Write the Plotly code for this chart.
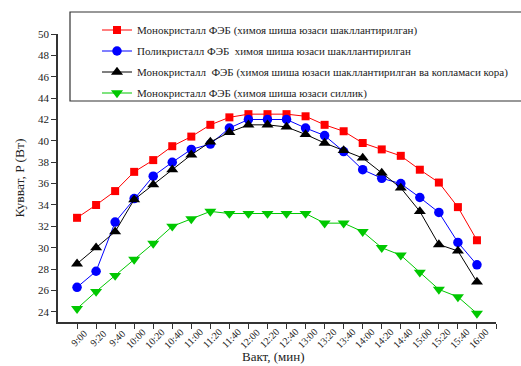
import plotly.graph_objects as go

# Time of day (20-minute steps)
times = ["9:00", "9:20", "9:40", "10:00", "10:20", "10:40", "11:00", "11:20",
         "11:40", "12:00", "12:20", "12:40", "13:00", "13:20", "13:40", "14:00",
         "14:20", "14:40", "15:00", "15:20", "15:40", "16:00"]

# Power, W
mono_shaped = [32.8, 34.0, 35.3, 37.1, 38.2, 39.5, 40.4, 41.5, 42.2, 42.5, 42.5,
               42.5, 42.3, 41.5, 40.9, 39.8, 39.2, 38.6, 37.3, 36.1, 33.8, 30.7]
poly_shaped = [26.3, 27.8, 32.4, 34.6, 36.7, 38.0, 39.2, 39.7, 41.2, 42.0, 42.0,
               42.0, 41.2, 40.5, 39.0, 37.3, 36.5, 36.0, 34.7, 33.3, 30.5, 28.4]
mono_shaped_dark = [28.5, 30.0, 31.5, 34.5, 35.9, 37.3, 38.7, 39.9, 40.8, 41.5, 41.5,
                    41.3, 40.6, 39.8, 39.1, 38.4, 37.0, 35.6, 33.4, 30.3, 29.7, 26.8]
mono_smooth = [24.3, 25.9, 27.4, 28.9, 30.4, 32.0, 32.7, 33.4, 33.2, 33.2, 33.2,
               33.2, 33.2, 32.3, 32.3, 31.5, 30.0, 29.3, 27.7, 26.1, 25.4, 23.85]

names = [
    "Монокристалл ФЭБ (химоя шиша юзаси шакллантирилган)",
    "Поликристалл ФЭБ  химоя шиша юзаси шакллантирилган",
    "Монокристалл  ФЭБ (химоя шиша юзаси шакллантирилган ва копламаси кора)",
    "Монокристалл ФЭБ (химоя шиша юзаси силлик)",
]
series = [mono_shaped, poly_shaped, mono_shaped_dark, mono_smooth]
colors = ["#ff0000", "#0000ff", "#000000", "#00c800"]
symbols = ["square", "circle", "triangle-up", "triangle-down"]
sizes = [8, 9.5, 10.5, 10.5]

xidx = list(range(len(times)))
FONT = "Liberation Serif"
TXT = "#222222"

fig = go.Figure()
for i, (name, ys) in enumerate(zip(names, series)):
    fig.add_trace(go.Scatter(
        x=xidx, y=ys, name=name, mode="lines+markers",
        legendgroup=f"g{i}",
        line=dict(color=colors[i], width=1),
        marker=dict(symbol=symbols[i], size=sizes[i], color=colors[i],
                    line=dict(width=0)),
    ))

W, H = 521, 366
ml, mr, mt, mb = 58, 25, 34, 44
pw, ph = W - ml - mr, H - mt - mb


def px_x(p):
    return (p - ml) / pw


def px_y(p):
    return (H - mb - p) / ph


# Legend frame
fig.add_shape(type="rect", xref="paper", yref="paper",
              x0=px_x(70), x1=px_x(530), y0=px_y(101), y1=px_y(12),
              line=dict(color="#333333", width=1.2), fillcolor="white",
              layer="above")

# Slanted time labels, centred under each tick
for i, t in enumerate(times):
    fig.add_annotation(text=t, xref="x", yref="paper", x=i + 0.08, y=px_y(338),
                       xanchor="center", yanchor="middle", textangle=-45,
                       showarrow=False, font=dict(family=FONT, size=10, color=TXT))

# X-axis title
fig.add_annotation(text="Вакт, (мин)", xref="paper", yref="paper",
                   x=px_x(273), y=px_y(366), xanchor="center", yanchor="bottom",
                   showarrow=False, font=dict(family=FONT, size=13, color=TXT))

fig.update_layout(
    width=W, height=H,
    margin=dict(l=ml, r=mr, t=mt, b=mb, pad=0, autoexpand=False),
    paper_bgcolor="white", plot_bgcolor="white",
    font=dict(family=FONT, color=TXT),
    showlegend=True,
    legend=dict(x=px_x(97), y=px_y(15.5), xanchor="left", yanchor="top",
                bgcolor="rgba(0,0,0,0)", borderwidth=0,
                font=dict(family=FONT, size=11, color=TXT),
                tracegroupgap=2, itemwidth=30),
    xaxis=dict(
        range=[-1, 22], tickmode="array", tickvals=xidx + [22],
        showticklabels=False,
        ticks="outside", ticklen=5, tickwidth=1.3, tickcolor="#333333",
        showline=True, linecolor="#333333", linewidth=1.6,
        showgrid=False, zeroline=False,
    ),
    yaxis=dict(
        range=[23.05, 50], tickmode="array", tickvals=list(range(24, 51, 2)),
        tickfont=dict(family=FONT, size=11, color=TXT),
        ticks="outside", ticklen=5, tickwidth=1.3, tickcolor="#333333",
        showline=True, linecolor="#333333", linewidth=1.6,
        showgrid=False, zeroline=False,
        title=dict(text="Кувват, P (Вт)", font=dict(family=FONT, size=13.5, color=TXT),
                   standoff=10),
    ),
)

fig.write_html("out.html")
